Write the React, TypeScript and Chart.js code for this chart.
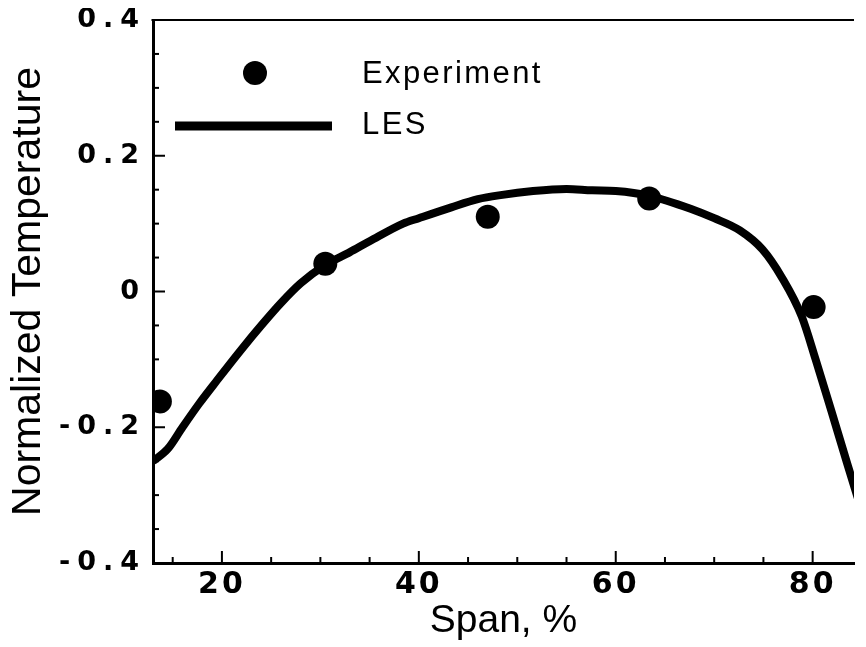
import React, { useEffect, useRef } from "react";
import { Chart, registerables } from "chart.js";

Chart.register(...registerables);

// ---- data ----
const expX = [13.7, 30.5, 47.0, 63.4, 80.1];
const expY = [-0.162, 0.041, 0.11, 0.137, -0.023];

const lesX = [13.0, 14.5, 16.0, 17.7, 19.5, 22.0, 24.0, 26.0, 28.0, 30.4, 33.0, 35.0, 38.4, 40.0, 43.3, 46.0, 48.3, 51.6, 55.0, 57.6, 60.0, 63.4, 67.6, 70.0, 72.6, 74.9, 76.9, 78.9, 80.3, 81.9, 83.5, 84.6];
const lesY = [-0.25, -0.232, -0.2, -0.165, -0.131, -0.085, -0.05, -0.017, 0.012, 0.038, 0.058, 0.074, 0.1, 0.108, 0.124, 0.136, 0.142, 0.148, 0.151, 0.149, 0.148, 0.141, 0.122, 0.108, 0.09, 0.062, 0.02, -0.037, -0.1, -0.176, -0.253, -0.305];

const xTickLabels = ["20", "40", "60", "80"];
const yTickLabels = ["-0.4", "-0.2", "0", "0.2", "0.4"];

const seriesLabels = ["Experiment", "LES"];

const findLabel = (labels: string[], v: number) => {
  for (const l of labels) if (Math.abs(Number(l) - v) < 1e-6) return l;
  return "";
};

const tecplotPlugin = {
  id: "tecplot",
  beforeDraw(chart: any) {
    const spacings: Record<string, string> = { x: "3px", y: "7px" };
    for (const id of ["x", "y"]) {
      const s: any = chart.scales[id];
      if (s && !s._lsPatched) {
        const orig = s.drawLabels.bind(s);
        s.drawLabels = (area: any) => {
          const ctx = chart.ctx;
          ctx.save();
          (ctx as any).letterSpacing = spacings[id];
          orig(area);
          ctx.restore();
        };
        s._lsPatched = true;
      }
    }
  },
  afterDraw(chart: any) {
    const ctx = chart.ctx;
    const { left, right, top, bottom } = chart.chartArea;
    const xs: any = chart.scales.x;
    const ys: any = chart.scales.y;
    ctx.save();
    ctx.strokeStyle = "#000";
    ctx.lineWidth = 2;
    // top frame line
    ctx.beginPath();
    ctx.moveTo(left - 1.5, top);
    ctx.lineTo(right, top);
    ctx.stroke();
    // inward tick marks
    for (const t of xs.ticks) {
      const px = xs.getPixelForValue(t.value);
      const major = findLabel(xTickLabels, t.value) !== "";
      ctx.beginPath();
      ctx.moveTo(px, bottom);
      ctx.lineTo(px, bottom - (major ? 12 : 6));
      ctx.stroke();
    }
    for (const t of ys.ticks) {
      const py = ys.getPixelForValue(t.value);
      const major = findLabel(yTickLabels, t.value) !== "";
      ctx.beginPath();
      ctx.moveTo(left, py);
      ctx.lineTo(left + (major ? 12 : 6), py);
      ctx.stroke();
    }
    // legend inside plot area
    const ds = chart.data.datasets;
    ctx.fillStyle = "#000";
    ctx.font = "31px 'Liberation Sans', Arial, sans-serif";
    (ctx as any).letterSpacing = "2.4px";
    ctx.textAlign = "left";
    ctx.textBaseline = "alphabetic";
    // Experiment marker
    ctx.beginPath();
    ctx.arc(left + 102, top + 53, ds[0].pointRadius, 0, Math.PI * 2);
    ctx.fill();
    ctx.fillText(ds[0].label, left + 209, top + 63);
    // LES line
    ctx.lineWidth = ds[1].borderWidth + 1;
    ctx.beginPath();
    ctx.moveTo(left + 22, top + 106);
    ctx.lineTo(left + 179, top + 106);
    ctx.stroke();
    ctx.fillText(ds[1].label, left + 209, top + 114);
    ctx.restore();
  },
};

export default function App() {
  const ref = useRef<HTMLCanvasElement | null>(null);
  useEffect(() => {
    if (!ref.current) return;
    const chart = new Chart(ref.current, {
      type: "line",
      data: {
        datasets: [
          {
            label: seriesLabels[0],
            data: expX.map((x, i) => ({ x, y: expY[i] })),
            showLine: false,
            pointRadius: 12,
            pointHoverRadius: 12,
            pointBackgroundColor: "#000",
            pointBorderWidth: 0,
            borderColor: "#000",
            backgroundColor: "#000",
          },
          {
            label: seriesLabels[1],
            data: lesX.map((x, i) => ({ x, y: lesY[i] })),
            borderColor: "#000",
            borderWidth: 8,
            pointRadius: 0,
            cubicInterpolationMode: "monotone",
            fill: false,
          },
        ],
      },
      options: {
        animation: false,
        responsive: true,
        maintainAspectRatio: false,
        layout: { padding: { left: 0, right: 0, top: 11, bottom: 0 } },
        plugins: { legend: { display: false }, tooltip: { enabled: false } },
        scales: {
          x: {
            type: "linear",
            min: 13,
            max: 84.2,
            afterFit: (s: any) => {
              s.height = 84;
              s.paddingLeft = 0;
              s.paddingRight = 0;
            },
            grid: { display: false, drawTicks: false },
            border: { display: true, color: "#000", width: 3 },
            ticks: {
              stepSize: 5,
              includeBounds: false,
              autoSkip: false,
              maxRotation: 0,
              padding: 4,
              color: "#000",
              font: { family: "'DejaVu Sans', sans-serif", size: 30, weight: "bold" },
              callback: (v: any) => findLabel(xTickLabels, Number(v)),
            },
            title: {
              display: true,
              text: "Span, %",
              color: "#000",
              font: { family: "'Liberation Sans', Arial, sans-serif", size: 39, lineHeight: 1.2 },
              padding: { top: 2, bottom: 2 },
            },
          },
          y: {
            type: "linear",
            min: -0.4,
            max: 0.4,
            afterFit: (s: any) => {
              s.width = 145;
              s.paddingTop = 0;
              s.paddingBottom = 0;
            },
            grid: { display: false, drawTicks: false },
            border: { display: true, color: "#000", width: 3 },
            ticks: {
              stepSize: 0.05,
              includeBounds: false,
              autoSkip: false,
              padding: 7,
              color: "#000",
              font: { family: "'DejaVu Sans', sans-serif", size: 27, weight: "bold" },
              callback: (v: any) => findLabel(yTickLabels, Number(v)),
            },
            title: {
              display: true,
              text: "Normalized Temperature",
              color: "#000",
              font: { family: "'Liberation Sans', Arial, sans-serif", size: 41, lineHeight: 1.0 },
              padding: { top: 0, bottom: 0 },
            },
          },
        },
      },
      plugins: [tecplotPlugin],
    } as any);
    return () => chart.destroy();
  }, []);
  return (
    <div style={{ position: "relative", width: 858, height: 639 }}>
      <canvas ref={ref} />
    </div>
  );
}
